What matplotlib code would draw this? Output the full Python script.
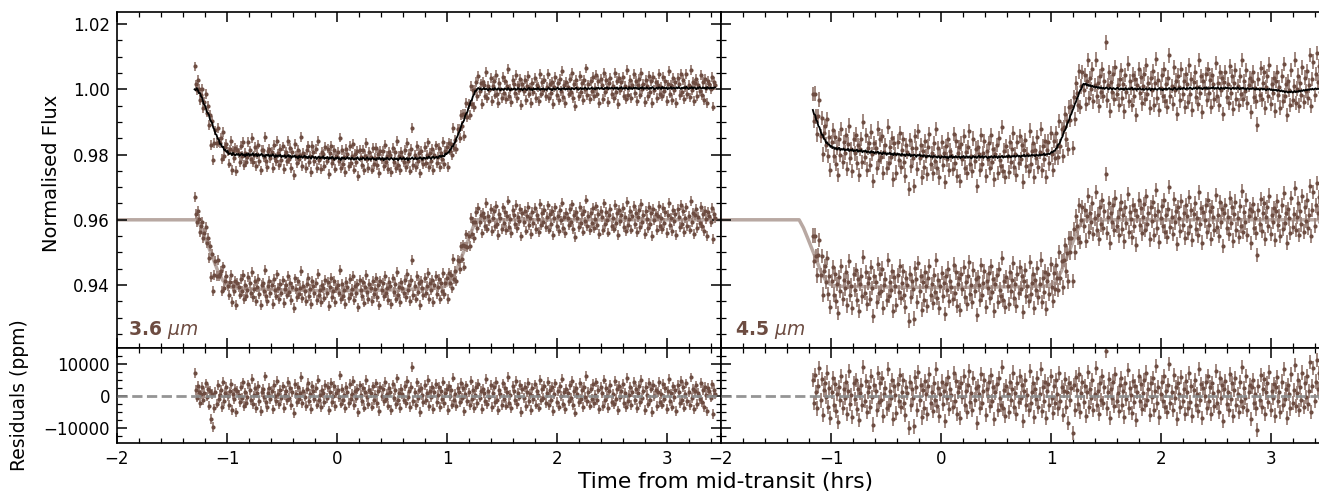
import numpy as np
import matplotlib
matplotlib.use("Agg")
import matplotlib.pyplot as plt
from matplotlib.ticker import MultipleLocator, FormatStrFormatter

# ---------------- data ----------------
# cadence (hours) and first time stamp of each light curve
dt = 0.01
t0_36 = -1.295
t0_45 = -1.165

# residuals in units of 100 ppm (3.6 micron)
res_36 = [
    70, 18, -6, 31, 12, -22, 4, 27, -14, 9, 38, -3, 21, -31, 15, -72, 6, -98, -40, 11,
    -25, 33, -9, 2, 19, -36, 44, -17, 8, 26, -2, -29, 13, 37, -45, 5, -11, 22, -52, 16,
    3, -19, 28, -7, 41, -33, 10, -24, -4, 35, 17, -13, 52, -26, 1, 24, -38, 7, 30, -16,
    -48, 12, 20, -5, 60, -21, -35, 9, 25, -10, 14, -43, 33, -1, -18, 47, 6, -27, 19, -8,
    29, -39, 2, 16, -14, 43, -6, 23, -30, 11, -55, 36, 4, -20, 27, -11, 8, 58, -24, 13,
    -3, -32, 21, 39, -17, 5, -42, 30, 15, -9, 24, -28, 50, -12, 3, -36, 18, 7, -21, 34,
    -7, 26, -46, 12, 40, -19, -2, 31, -33, 9, 17, -5, 63, -25, 22, -15, 1, -40, 28, 10,
    -23, 36, -11, 6, 45, -30, 14, -8, 20, -52, 32, 2, -16, 25, -37, 11, 48, -4, -26, 19,
    8, -34, 29, -13, 3, 38, -22, 15, -47, 27, -1, 21, -18, 42, -9, 6, -31, 24, 12, -44,
    35, -6, 17, -27, 54, -15, 9, -39, 22, 4, -12, 30, -24, 46, -3, 13, -35, 28, 90, -17,
    10, -29, 41, -8, 19, -50, 24, 2, -20, 33, -14, 7, 49, -32, 16, -5, 26, -41, 11, 37,
    -19, 3, 28, -36, 14, -10, 44, -23, 8, 21, -45, 31, -2, 17, -28, 56, -13, 6, -33, 23,
    12, -21, 39, -7, 25, -49, 4, 32, -16, 10, -30, 47, -11, 19, -38, 2, 27, -24, 36, -6,
    15, -42, 22, 9, -18, 51, -27, 13, -4, 34, -35, 7, 28, -20, 43, -12, -46, 18, 5, -29,
    38, -9, 24, -31, 11, 59, -22, 3, -40, 30, 16, -14, 45, -26, 8, -3, 33, -51, 20, -7,
    27, -33, 12, 40, -17, 6, -44, 23, -10, 35, -28, 14, 2, -37, 48, -15, 21, -6, 31, -23,
    9, 44, -30, 17, -12, 26, -48, 5, 38, -19, 13, -34, 29, -2, 53, -25, 10, -41, 20, 7,
    -16, 32, -8, 47, -29, 15, -53, 24, 4, -21, 39, -11, 18, -36, 27, -5, 62, -18, 11, -31,
    22, -9, 36, -24, 3, 41, -15, 19, -43, 28, 8, -32, 50, -13, 25, -2, -39, 16, 33, -20,
    6, -27, 45, -10, 21, -46, 30, -4, 14, 37, -23, 9, -35, 55, -17, 2, 26, -30, 12, 43,
    -14, 20, -38, 8, 31, -21, 48, -7, 16, -44, 27, 3, -25, 39, -12, 22, -50, 34, -1, 18,
    -32, 11, 42, -19, 5, -28, 36, -9, 24, -41, 15, 52, -16, 7, -34, 29, -5, 19, -47, 33,
    10, -22, 46, -13, 26, -37, 4, 38, -18, 12, -30, 57, -8, 21, -43, 14, 32, -26, 9, -11,
    40, -20, 17, -35, 28, 3, -49, 23, 13, -6, 35, -58, 18, 6,
]
# systematics (pixel-phase model) in units of 1e-4 (3.6 micron)
sys_36 = [
    0, -3, 4, 1, -2, 5, 2, 7, -1, 3, 6, 0, 4, 8, 2, 5, 9, 3, 6, 1,
    7, 4, 10, 2, 8, 5, 11, 3, 9, 6, 12, 4, 7, 10, 5, 13, 8, 6, 11, 9,
    12, 6, 10, 14, 8, 11, 5, 13, 9, 15, 7, 12, 10, 16, 8, 11, 14, 7, 13, 9,
    12, 15, 8, 11, 6, 13, 10, 14, 7, 12, 9, 15, 11, 6, 13, 8, 12, 10, 14, 7,
    11, 9, 13, 6, 10, 14, 8, 12, 5, 11, 9, 13, 7, 10, 4, 12, 8, 11, 6, 9,
    13, 7, 10, 5, 11, 8, 4, 12, 9, 6, 10, 3, 8, 11, 5, 9, 7, 12, 4, 8,
    6, 10, 3, 9, 5, 11, 7, 2, 8, 6, 10, 4, 7, 1, 9, 5, 8, 3, 6, 10,
    4, 7, 2, 8, 5, 1, 6, 3, 9, 4, 0, 6, 2, 7, 5, 1, 4, 8, 2, 5,
    0, 4, 6, 1, 3, -1, 5, 2, 7, 0, 3, 5, -2, 4, 1, 6, 2, -1, 3, 5,
    1, -2, 4, 0, 3, -3, 2, 5, -1, 1, 4, -2, 0, 3, -4, 2, -1, 1, 4, -2,
    0, 3, -3, 1, -1, 4, 0, -4, 2, 1, -2, 3, -1, 5, 0, -3, 2, 4, -1, 1,
    3, -2, 2, 5, 0, 4, 1, -1, 6, 2, 4, 0, 5, 3, 7, 1, 4, 2, 6, 3,
    5, 1, 4, 7, 2, 0, 5, 3, -1, 4, 2, 6, 0, 3, 1, 5, -1, 2, 4, 0,
    3, -2, 1, 4, -1, 2, 0, -3, 3, 1, -1, 2, -2, 4, 0, -1, 3, 1, -3, 2,
    0, -2, 3, 1, -1, 4, 0, -3, 2, -1, 1, 3, -2, 0, 4, 1, -1, 2, -3, 1,
    3, 0, -2, 2, 4, -1, 1, -3, 3, 0, 2, -1, 4, 1, -2, 2, 0, 3, -1, 1,
    -2, 2, 4, 0, 1, -3, 3, 1, -1, 2, 5, 0, 2, -2, 3, 1, 4, -1, 2, 0,
    3, 1, -1, 4, 2, 0, 3, 5, 1, -1, 2, 4, 0, 3, 1, 5, 2, 0, 4, 1,
    2, 5, 1, 3, 0, 4, 2, 6, 1, 3, 5, 2, 0, 4, 3, 6, 1, 4, 2, 5,
    3, 1, 5, 2, 6, 0, 4, 3, 7, 1, 4, 2, 5, 3, 0, 6, 2, 4, 1, 5,
    3, 6, 2, 4, 0, 5, 3, 7, 1, 4, 2, 6, 3, 1, 5, 2, 7, 4, 0, 3,
    5, 2, 6, 4, 1, 7, 3, 5, 2, 6, 0, 4, 3, 7, 1, 5, 4, 2, 6, 3,
    7, 4, 1, 5, 3, 6, 2, 8, 4, 1, 5, 3, 7, 2, 6, 4, 0, 5, 3, 7,
    4, 2, 6, 3, 5, 1, 7, 4, 2, 6, 3, 5, 4, 6, 3, 5,
]
# transit model knots (3.6 micron)
mt_36 = [-2.0, -1.27, -1.24, -1.20, -1.16, -1.12, -1.08, -1.04, -1.00, -0.96, -0.90, -0.5, 0.0,
         0.5, 0.90, 0.96, 1.00, 1.04, 1.08, 1.12, 1.16, 1.20, 1.24, 1.27, 3.6]
mf_36 = [1.0, 1.0, 0.998, 0.9945, 0.991, 0.9875, 0.984, 0.9815, 0.9800, 0.9793, 0.9790, 0.9785, 0.9782,
         0.9785, 0.9790, 0.9793, 0.9800, 0.9815, 0.984, 0.9875, 0.991, 0.9945, 0.998, 1.0, 1.0]

# residuals in units of 100 ppm (4.5 micron)
res_45 = [
    48, -22, 65, 10, -40, 30, 85, -15, 52, -60, 18, 40, -5, 72, -34, 24, -70, 12, 55, -28,
    36, -48, 6, -82, 28, -14, 62, -38, 20, -6, 44, -58, 15, 78, -25, 3, -66, 38, -10, 50,
    -42, 22, -75, 8, 34, -30, 90, -18, 46, -52, 11, 27, -36, 60, -4, -90, 32, 14, -46, 70,
    -20, 40, -12, 56, -64, 6, 24, -40, 82, -28, 16, -8, 48, -74, 30, 2, -54, 36, -16, 64,
    -34, 12, 50, -24, -60, 28, 8, -102, 42, -30, 20, -6, -96, 58, 26, -44, 74, -12, 34, -68,
    18, -38, 46, 4, -56, 30, 66, -22, 10, -48, 38, -14, 84, -32, 24, -62, 6, 44, -26, 14,
    -80, 36, -8, 58, -42, 20, 2, -34, 70, -18, 46, -56, 12, 28, -70, 40, -4, 62, -30, 16,
    -50, 34, 78, -20, 8, -44, 54, -12, 24, -86, 30, 6, -38, 68, -24, 14, 48, -60, 20, -2,
    42, -32, 64, -16, 26, -72, 10, 36, -46, 56, -8, -28, 88, -40, 18, -62, 30, 4, -52, 44,
    -14, 22, 72, -36, 8, -58, 40, -20, 60, -6, 32, -78, 16, 50, -30, 2, -44, 76, -24, 12,
    38, -66, 20, -10, 56, -34, 6, 82, -48, 26, -18, 44, -70, 14, 36, -28, 62, -8, -54, 30,
    -22, 48, 4, -40, 70, -16, 28, -60, 16, 52, -34, 10, -84, 40, -12, 24, -116, 34, -46, 58,
    18, -26, 66, -52, 8, 42, -20, 30, -64, 12, 74, -36, 22, -8, 50, -44, 4, 86, -30, 16,
    -58, 38, -14, 60, -24, 26, 140, -40, 10, 52, -70, 20, -6, 44, -32, 68, -18, 8, -48, 34,
    56, -28, 14, -66, 40, -10, 80, -38, 24, 2, -54, 46, -20, 30, -76, 12, 62, -16, 36, -42,
    8, 48, -30, 72, -12, 20, -60, 38, -4, 54, -46, 16, 92, -24, 28, -68, 6, 42, -18, 60,
    -36, 14, -52, 34, 100, -22, 10, -44, 64, -8, 26, -74, 40, 4, -34, 58, -16, 22, -56, 46,
    12, -40, 70, -20, 30, -62, 18, 50, -28, 6, -48, 84, -12, 36, -70, 24, -2, 44, -38, 62,
    -16, 28, -58, 40, 8, -32, 76, -22, 14, -50, 54, -6, 32, -80, 20, 46, -26, 10, -44, 66,
    -10, 38, -64, 18, 56, -30, 4, -52, 42, -18, 88, -36, 24, -8, 60, -46, 12, 34, -72, 26,
    48, -24, 6, -40, -108, 30, -14, 64, -34, 20, 52, -58, 10, 40, -20, 74, -44, 16, -6, 36,
    -62, 28, 58, -16, 12, -50, 44, -28, 82, -10, 22, -70, 34, 4, -40, 66, -22, 18, 96, -32,
    8, 50, -46, 26, -14, 72, -36, 40, -4, 60, -26, 14, 104, -50, 30, 86, -18, 44, 112, 20,
    70, -8, 118, 36, 90, 52,
]
# systematics (pixel-phase model) in units of 1e-4 (4.5 micron)
sys_45 = [
    33, 29, 35, 28, 32, 26, 31, 27, 24, 30, 25, 28, 22, 27, 23, 26, 21, 25, 20, 24,
    19, 23, 18, 22, 24, 17, 21, 19, 23, 16, 20, 18, 22, 15, 19, 17, 21, 14, 18, 16,
    20, 13, 17, 15, 19, 12, 16, 14, 18, 11, 15, 13, 10, 16, 12, 14, 9, 13, 11, 15,
    8, 12, 10, 6, 13, 9, 11, 5, 10, 8, 12, 6, 9, 4, 11, 7, 5, 10, 6, 8,
    3, 9, 5, 7, 2, 8, 6, 4, 9, 1, 6, 3, 7, 5, 0, 6, 4, 8, 2, 5,
    1, 6, 3, -1, 4, 2, 5, 0, 3, -2, 4, 1, 2, -2, 3, 0, -3, 2, 1, -1,
    3, -2, 1, -4, 2, 0, 4, -3, 1, -1, 3, -2, 0, 2, -4, 1, -1, 3, -3, 0,
    2, -3, 1, -1, -5, 0, 2, -2, 1, -4, 0, 3, -3, -1, 2, -4, 0, 1, -2, -5,
    0, -3, 1, -1, -4, 2, -2, 0, -5, 1, -3, -1, 2, -4, 0, -2, 1, -3, 3, -1,
    -3, 1, -1, 2, -2, 0, 3, -1, 1, -3, 2, 0, 4, -2, 1, 3, -1, 2, 0, 4,
    1, 3, -1, 4, 2, 0, 5, 1, 3, 2, 6, 0, 4, 2, 5, 1, 3, 6, 2, 4,
    1, 5, 3, 7, 2, 4, 6, 3, 8, 4, 2, 6, 5, 3, 7, 4, 6, 5, 8, 6,
    9, 7, 11, 13, 10, 15, 17, 14, 18, 12, 15, 10, 13, 8, 11, 7, 9, 5, 8, 4,
    7, 3, 6, 2, 5, 1, 4, 6, 2, 0, 5, 3, -1, 4, 2, 0, 3, 5, 1, -1,
    3, 0, 2, -2, 4, 1, -1, 3, 0, 2, 5, -1, 1, 3, -2, 2, 0, 4, 1, -1,
    2, -2, 1, 3, -1, 0, 4, -3, 2, 1, -1, 3, 0, -2, 2, 4, -1, 1, -3, 2,
    0, 3, -1, 2, 4, 0, 1, -2, 3, 5, 1, -1, 2, 4, 0, 3, 1, 5, 2, 0,
    4, 1, 3, 6, 2, 0, 4, 2, 5, 1, 3, 6, 2, 4, 0, 3, 5, 2, 6, 1,
    4, 2, 5, 3, 7, 1, 4, 2, 6, 3, 0, 5, 2, 4, 1, 6, 3, 5, 2, 4,
    0, 3, 5, 2, 4, 1, 6, 3, 0, 4, 2, 5, 1, 3, -1, 4, 2, 0, 3, 1,
    4, 1, -1, 3, 0, 2, -2, 1, 3, -1, 2, 0, -3, 1, -1, 2, -2, 0, -4, -1,
    -3, -1, -5, -2, -4, -6, -3, -7, -5, -9, -6, -8, -10, -7, -9, -6, -10, -8, -5, -9,
    -6, -8, -4, -7, -3, -5, -2, -4, -1, -3, 0, -2, 1, -1, 2, -1, 1, 3, 0, 2,
    1, -1, 2, 0, 3, 1, 2, 0, 1, 3,
]
# transit model knots (4.5 micron)
mt_45 = [-2.0, -1.29, -1.25, -1.21, -1.17, -1.13, -1.09, -1.05, -1.01, -0.97, -0.90, -0.5, 0.0,
         0.5, 0.90, 0.97, 1.01, 1.05, 1.09, 1.13, 1.17, 1.21, 1.25, 1.29, 3.6]
mf_45 = [1.0, 1.0, 0.9975, 0.9942, 0.9908, 0.9874, 0.984, 0.9815, 0.9803, 0.9798, 0.9796, 0.9794, 0.9792,
         0.9794, 0.9796, 0.9798, 0.9803, 0.9815, 0.984, 0.9874, 0.9908, 0.9942, 0.9975, 1.0, 1.0]

err_36 = 0.0015
err_45 = 0.0022
offset = 0.04
labels = [r"$\mathbf{3.6}\ \mu m$", r"$\mathbf{4.5}\ \mu m$"]

# ---------------- style ----------------
C_PT = "#6d4c41"
C_ERR = "#a08880"
C_MODEL = "#b8a8a2"

W, H = 1319, 493
fig = plt.figure(figsize=(W / 100, H / 100), dpi=100)

xl, wl = 117 / W, 604 / W
xr = 721 / W
yt, ht = 1 - 348 / H, 336 / H
yb, hb = 1 - 443.3 / H, 95.3 / H

ax_tl = fig.add_axes([xl, yt, wl, ht])
ax_bl = fig.add_axes([xl, yb, wl, hb])
ax_tr = fig.add_axes([xr, yt, wl, ht])
ax_br = fig.add_axes([xr, yb, wl, hb])


def style(ax, top, right_panel):
    ax.tick_params(which="both", direction="in", top=True, right=not right_panel,
                   labelsize=12, pad=5)
    ax.tick_params(which="major", length=7, width=1.1)
    ax.tick_params(which="minor", length=3.5, width=0.9)
    for s in ax.spines.values():
        s.set_linewidth(1.2)
    ax.set_xlim(-2, 3.49)
    ax.xaxis.set_major_locator(MultipleLocator(1))
    ax.xaxis.set_minor_locator(MultipleLocator(0.2))
    if top:
        ax.set_ylim(0.9207, 1.0237)
        ax.yaxis.set_major_locator(MultipleLocator(0.02))
        ax.yaxis.set_minor_locator(MultipleLocator(0.005))
        ax.yaxis.set_major_formatter(FormatStrFormatter("%.2f"))
        ax.tick_params(labelbottom=False)
    else:
        ax.set_ylim(-14850, 14850)
        ax.yaxis.set_major_locator(MultipleLocator(10000))
        ax.yaxis.set_minor_locator(MultipleLocator(2500))
    if right_panel:
        ax.tick_params(labelleft=False)


panels = [
    (ax_tl, ax_bl, t0_36, res_36, sys_36, mt_36, mf_36, err_36, labels[0]),
    (ax_tr, ax_br, t0_45, res_45, sys_45, mt_45, mf_45, err_45, labels[1]),
]

for k, (axt, axb, t0, res, sysl, mt, mf, err, lab) in enumerate(panels):
    n = min(len(res), len(sysl))
    r = np.array(res[:n], dtype=float) * 1e-4
    s = np.array(sysl[:n], dtype=float) * 1e-4
    t = t0 + dt * np.arange(n)
    model = np.interp(t, mt, mf)
    upper = model + s + r
    black = model + s
    lower = model + r - offset
    resid_ppm = r * 1e6

    axt.plot(np.array(mt), np.array(mf) - offset, color=C_MODEL, lw=2.5, zorder=1)
    ekw = dict(fmt="o", ms=3.0, color=C_PT, ecolor=C_ERR, elinewidth=1.4, capsize=0,
               markeredgewidth=0)
    axt.errorbar(t, upper, yerr=err, zorder=2, **ekw)
    axt.errorbar(t, lower, yerr=err, zorder=2, **ekw)
    axt.plot(t, black, color="black", lw=1.3, zorder=3)

    axb.errorbar(t, resid_ppm, yerr=err * 1e6, zorder=2, **ekw)
    axb.plot([-2, 3.6], [0, 0], color="#8a8a8a", lw=2, ls="--", zorder=3, alpha=0.9)

    style(axt, True, k == 1)
    style(axb, False, k == 1)
    axt.text(0.018 if k == 0 else 0.023, 0.04, lab, transform=axt.transAxes,
             color=C_PT, fontsize=13.5, ha="left", va="baseline")

fig.text(52 / W, 1 - 173 / H, "Normalised Flux", rotation=90, fontsize=14, ha="center", va="center")
fig.text(20 / W, 1 - 395 / H, "Residuals (ppm)", rotation=90, fontsize=13.5, ha="center", va="center")
fig.text(726 / W, 1 - 482 / H, "Time from mid-transit (hrs)", fontsize=15.7, ha="center", va="center")

fig.savefig("out.png", dpi=100)
